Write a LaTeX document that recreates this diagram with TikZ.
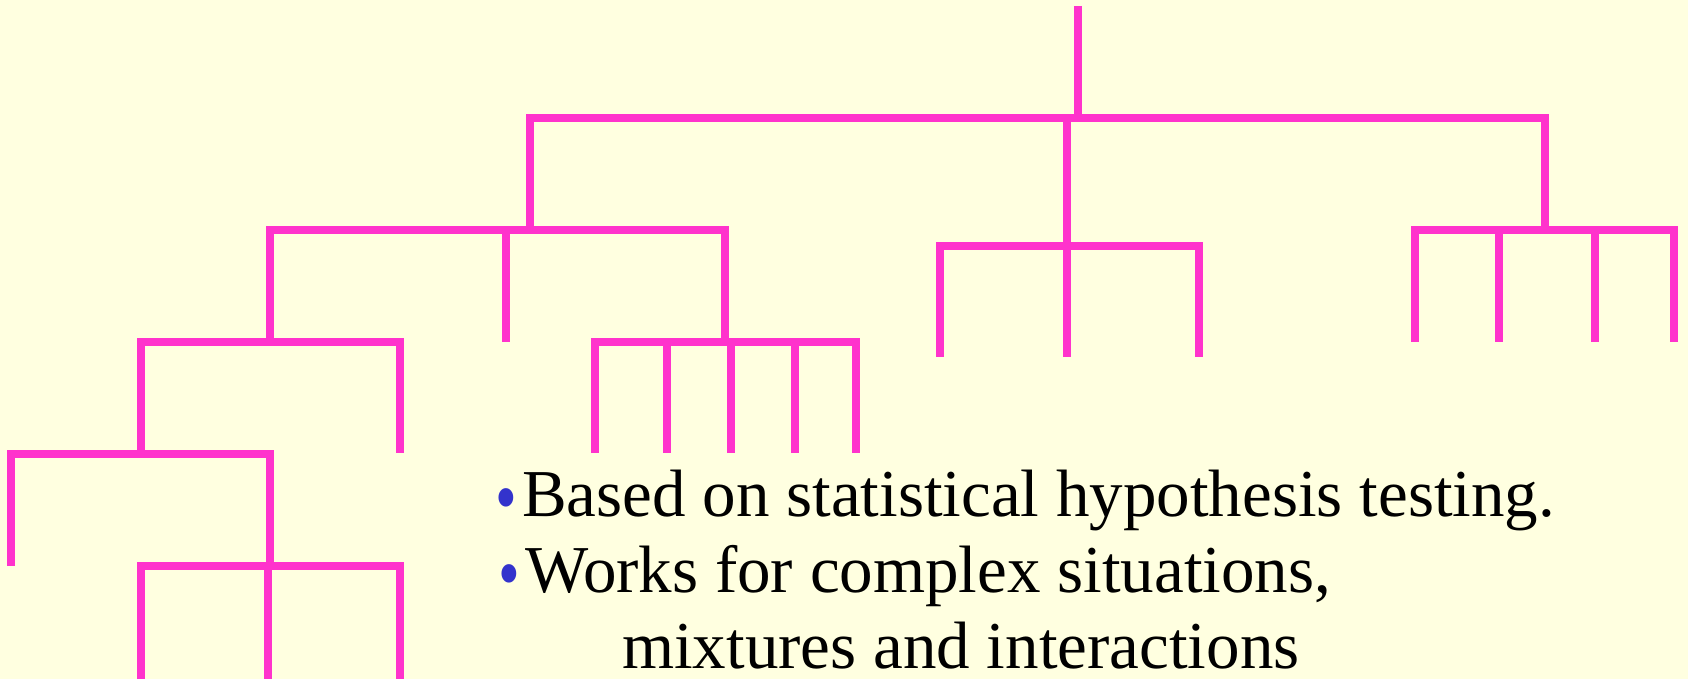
\documentclass[tikz,border=0pt]{standalone}
\usepackage{fontspec}
\setmainfont{Liberation Serif}
\definecolor{paper}{RGB}{255,255,224}
\definecolor{branch}{RGB}{255,51,204}
\definecolor{dotblue}{RGB}{51,51,204}
\newcommand{\itemdot}{\llap{\textcolor{dotblue}{\fontsize{62}{62}\selectfont\raisebox{-7pt}[0pt][0pt]{\scalebox{1}[1.25]{•}}}\hspace{5pt}}}
\tikzset{
  link/.style={draw=branch, line width=7.5pt},
  txt/.style={anchor=base west, inner sep=0pt, text depth=0pt, font=\fontsize{67}{67}\selectfont}
}
\begin{document}
\begin{tikzpicture}[x=1pt, y=-1pt]
\useasboundingbox (0,0) rectangle (1688,679);
\fill[paper] (0,0) rectangle (1688,679);

% branch points of the tree
\coordinate (top) at (1078,6);
\coordinate (root) at (1078,118);
\coordinate (L) at (530,230);
\coordinate (M) at (1067,246);
\coordinate (R) at (1545,230);
\coordinate (LL) at (270,342);
\coordinate (LM) at (506,342);
\coordinate (LR) at (725,342);
\coordinate (LLL) at (141,454);
\coordinate (LLR) at (400,453);
\coordinate (D1) at (11,566);
\coordinate (D2) at (270,566);

% stem and main bar
\draw[link] (top) -- (root);
\foreach \c in {L,M,R} \draw[link] (root) -| (\c);
\foreach \c in {LL,LM,LR} \draw[link] (L) -| (\c);
\foreach \c in {LLL,LLR} \draw[link] (LL) -| (\c);
\foreach \c in {D1,D2} \draw[link] (LLL) -| (\c);

% leaves of each cluster
\foreach \x [count=\i] in {141,268,400} {
  \coordinate (e\i) at (\x,679);
  \draw[link] (D2) -| (e\i);
}
\foreach \x [count=\i] in {595,667,731,795,856} {
  \coordinate (f\i) at (\x,453);
  \draw[link] (LR) -| (f\i);
}
\foreach \x [count=\i] in {940,1067,1199} {
  \coordinate (m\i) at (\x,357);
  \draw[link] (M) -| (m\i);
}
\foreach \x [count=\i] in {1415,1499,1595,1674} {
  \coordinate (r\i) at (\x,342);
  \draw[link] (R) -| (r\i);
}

% bullet text
\node[txt] (b1) at (522,516) {\itemdot Based on statistical hypothesis testing.};
\node[txt] (b2) at (525,592) {\itemdot Works for complex situations,};
\node[txt] (b3) at (622,668) {mixtures and interactions};
\end{tikzpicture}
\end{document}
